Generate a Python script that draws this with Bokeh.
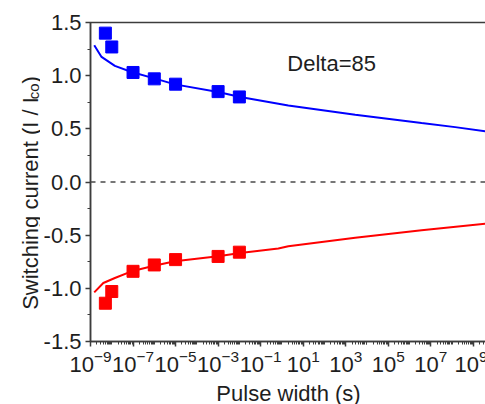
import math
from bokeh.plotting import figure
from bokeh.layouts import row
from bokeh.models import (Range1d, FixedTicker, LogTickFormatter, PrintfTickFormatter,
                          Span, Label)
from bokeh.core.properties import value
from bokeh.embed import file_html
from bokeh.resources import INLINE

# ---- data ----
pulse_width_s = [5e-9, 1e-8, 1e-7, 1e-6, 1e-5, 1e-3, 1e-2]
ic_positive = [1.40, 1.27, 1.03, 0.97, 0.92, 0.85, 0.80]
ic_negative = [-1.14, -1.03, -0.84, -0.78, -0.73, -0.70, -0.66]

fit_pos_t = [1.5e-9, 3.3e-9, 1.4e-8, 8.5e-8, 1.1e-6, 9.3e-6, 1.0e-3, 1.1e-2, 2.0, 2.8e3, 3.7e6, 1.4e8, 4.3e9]
fit_pos = [1.286, 1.176, 1.092, 1.035, 0.972, 0.918, 0.846, 0.799, 0.720, 0.632, 0.554, 0.516, 0.475]

fit_neg_t = [1.5e-9, 4.0e-9, 1.4e-8, 8.5e-8, 1.1e-6, 9.3e-6, 1.0e-3, 1.1e-2, 0.68, 2.0, 2.8e3, 3.7e6, 4.3e9]
fit_neg = [-1.038, -0.950, -0.903, -0.840, -0.786, -0.745, -0.698, -0.667, -0.626, -0.605, -0.525, -0.453, -0.390]

x_major_ticks = [10.0 ** e for e in range(-9, 10, 2)]
y_major_ticks = [-1.5, -1.0, -0.5, 0.0, 0.5, 1.0, 1.5]
y_minor_ticks = [-1.25, -0.75, -0.25, 0.25, 0.75, 1.25]

FONT = "Liberation Sans"
TXT = "#1e1e1e"
AX = "#3c3c3c"

X0, X1 = 1e-9, 10 ** 9.62
Y0, Y1 = -1.5, 1.5
FW, FH = 396, 319
T = 22
SIDE_W = 40
H = 404

# ---- narrow side panel carrying the y-axis title ----
# its frame gets aligned with the main frame, so its y range is expressed in
# canvas pixels counted from the bottom over the main frame's span
side = figure(width=SIDE_W, height=H, x_range=Range1d(0, SIDE_W),
              y_range=Range1d(H - T - FH, H - T),
              x_axis_location=None, y_axis_location=None,
              output_backend="svg", toolbar_location=None,
              min_border=0, min_border_left=0, min_border_right=0,
              min_border_top=T, min_border_bottom=H - T - FH)
side.grid.visible = False
side.outline_line_color = None
side.background_fill_color = "white"
side.border_fill_color = "white"

base_x = 29.5
start_y = H - 313
main_w = 212.7
side.text(x=[base_x], y=[start_y], text=["Switching current (I / I"], angle=math.pi / 2,
          text_font=value(FONT), text_font_size="22px", text_color=TXT,
          text_baseline="alphabetic", text_align="left")
side.text(x=[base_x + 3.5], y=[start_y + main_w + 0.5], text=["co"], angle=math.pi / 2,
          text_font=value(FONT), text_font_size="15px", text_color=TXT,
          text_baseline="alphabetic", text_align="left")
side.text(x=[base_x], y=[start_y + main_w + 16.5], text=[")"], angle=math.pi / 2,
          text_font=value(FONT), text_font_size="22px", text_color=TXT,
          text_baseline="alphabetic", text_align="left")

# ---- main plot ----
p = figure(frame_width=FW, frame_height=FH, x_axis_type="log",
           x_range=Range1d(X0, X1), y_range=Range1d(Y0, Y1),
           output_backend="svg", toolbar_location=None,
           min_border_left=88 - SIDE_W, min_border_right=1, min_border_top=T,
           min_border_bottom=H - T - FH)
p.background_fill_color = "white"
p.border_fill_color = None
p.outline_line_color = AX
p.outline_line_width = 1.5
p.xgrid.visible = False
p.ygrid.visible = False

x_minor = []
for e in range(-9, 10):
    for k in range(1, 10):
        v = k * 10.0 ** e
        if v not in x_major_ticks:
            x_minor.append(v)

p.xaxis.ticker = FixedTicker(ticks=x_major_ticks, minor_ticks=x_minor)
p.xaxis.formatter = LogTickFormatter()
p.yaxis.ticker = FixedTicker(ticks=y_major_ticks, minor_ticks=y_minor_ticks)
p.yaxis.formatter = PrintfTickFormatter(format="%.1f")

for ax in (p.xaxis[0], p.yaxis[0]):
    ax.axis_line_color = AX
    ax.axis_line_width = 1.5
    ax.major_tick_line_color = AX
    ax.minor_tick_line_color = AX
    ax.major_tick_line_width = 1.5
    ax.minor_tick_line_width = 1
    ax.major_tick_out = 5
    ax.major_tick_in = 0
    ax.minor_tick_out = 3
    ax.minor_tick_in = 0
    ax.major_label_text_font = FONT
    ax.major_label_text_font_size = "22px"
    ax.major_label_text_color = TXT
    ax.major_label_text_font_style = "normal"

p.yaxis.major_label_standoff = 4
p.xaxis.major_label_standoff = 3
p.xaxis.axis_label = "Pulse width (s)"
p.xaxis.axis_label_text_font = FONT
p.xaxis.axis_label_text_font_size = "22px"
p.xaxis.axis_label_text_font_style = "normal"
p.xaxis.axis_label_text_color = TXT
p.xaxis.axis_label_standoff = 6

# zero line
p.add_layout(Span(location=0, dimension="width", line_color="#4a4a4a",
                  line_width=1.5, line_dash="5 5"))

# fits
p.line(fit_pos_t, fit_pos, line_color="#0000ff", line_width=2)
p.line(fit_neg_t, fit_neg, line_color="#ff0000", line_width=2)

# data
p.scatter(pulse_width_s, ic_positive, marker="square", size=12,
          fill_color="#0000ff", line_color="#0000ff")
p.scatter(pulse_width_s, ic_negative, marker="square", size=12,
          fill_color="#ff0000", line_color="#ff0000")

# annotation
p.add_layout(Label(x=1.8, y=1.11, text="Delta=85", text_font=FONT,
                   text_font_size="22px", text_color=TXT, text_baseline="alphabetic"))

layout = row(side, p, spacing=0)
open("out.html", "w").write(file_html(layout, INLINE))
